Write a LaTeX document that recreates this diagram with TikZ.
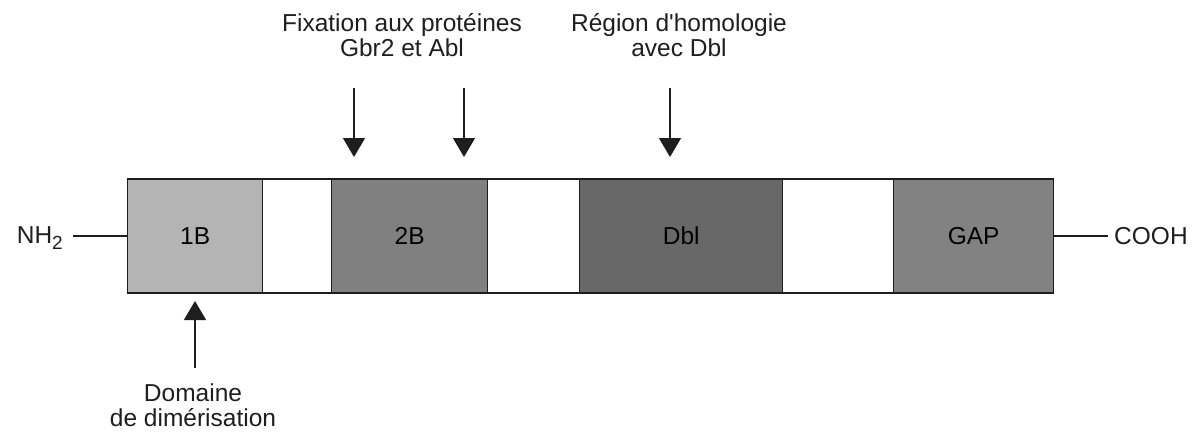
\documentclass[tikz,border=0pt]{standalone}
\usepackage{fontspec}
\setmainfont{Liberation Sans}
\usetikzlibrary{arrows.meta}
\definecolor{gOne}{HTML}{B4B4B4}
\definecolor{gTwo}{HTML}{808080}
\definecolor{gDbl}{HTML}{686868}
\definecolor{gGap}{HTML}{828282}
\definecolor{ink}{HTML}{1E1E1E}
\begin{document}
\begin{tikzpicture}[x=1pt,y=-1pt,
  dom/.style={draw=ink,line width=1.4pt,minimum height=114pt,inner sep=0pt,anchor=west,font=\fontsize{24.5}{28}\selectfont},
  lbl/.style={align=center,font=\fontsize{24.5}{25}\selectfont,inner sep=0pt,text=ink},
  conn/.style={draw=ink,line width=1.4pt},
  arr/.style={conn,-{Triangle[width=22pt,length=19pt]}}]
\useasboundingbox (0,0) rectangle (1200,432);
\node[dom,fill=gOne,minimum width=135pt] (b1) at (127,236) {1B};
\node[dom,fill=white,minimum width=69pt] (w1) at (262,236) {};
\node[dom,fill=gTwo,minimum width=156pt] (b2) at (331,236) {2B};
\node[dom,fill=white,minimum width=92pt] (w2) at (487,236) {};
\node[dom,fill=gDbl,minimum width=203pt] (bd) at (579,236) {Dbl};
\node[dom,fill=white,minimum width=111pt] (w3) at (782,236) {};
\node[dom,fill=gGap,minimum width=160pt] (bg) at (893,236) {GAP};
\node[lbl,anchor=east] (nh) at (63,238) {NH\raisebox{-0.45ex}{\fontsize{19}{20}\selectfont 2}};
\node[lbl,anchor=west] (co) at (1114,236) {COOH};
\coordinate (nhe) at (73,236);
\coordinate (coe) at (1108,236);
\draw[conn] (nhe) -- (b1.west);
\draw[conn] (bg.east) -- (coe);
\node[lbl] (t1) at (402,35) {Fixation aux protéines\\Gbr2 et Abl};
\node[lbl] (t2) at (679,35) {Région d\textquotesingle homologie\\avec Dbl};
\node[lbl] (t3) at (193,405) {Domaine\\de dimérisation};
\coordinate (a1s) at (354,88); \coordinate (a1e) at (354,157);
\coordinate (a2s) at (464,88); \coordinate (a2e) at (464,157);
\coordinate (a3s) at (670,88); \coordinate (a3e) at (670,157);
\coordinate (a4s) at (195,368); \coordinate (a4e) at (195,301);
\draw[arr] (a1s) -- (a1e);
\draw[arr] (a2s) -- (a2e);
\draw[arr] (a3s) -- (a3e);
\draw[arr] (a4s) -- (a4e);
\end{tikzpicture}
\end{document}
